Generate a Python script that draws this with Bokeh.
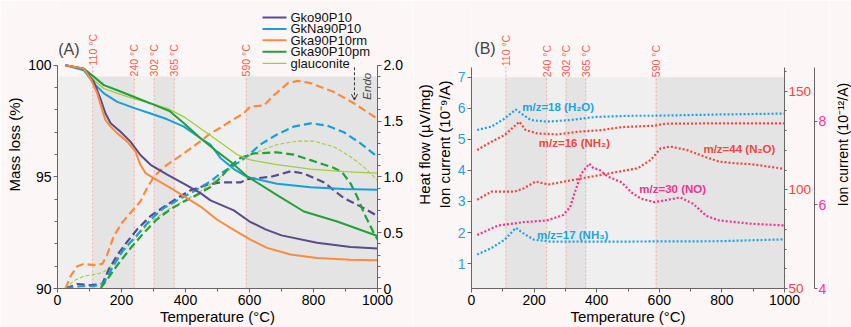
import numpy as np
from bokeh.plotting import figure
from bokeh.models import (Range1d, LinearAxis, FixedTicker, Label, Arrow, OpenHead,
                          NumeralTickFormatter)
from bokeh.layouts import row
from bokeh.embed import file_html
from bokeh.resources import INLINE
from bokeh.core.properties import value

# ---------------- (A) TG mass loss (%) ----------------
tg_gko_t = [25, 82, 114, 134, 150, 166, 197, 228, 259, 291, 343, 400, 447, 478, 551, 600, 650, 700, 811, 916, 1000]
tg_gko_m = [100, 99.85, 99.25, 98.51, 97.84, 97.40, 97.02, 96.58, 95.98, 95.54, 95.1, 94.65, 94.27, 93.95, 93.5, 93.0, 92.65, 92.38, 92.05, 91.86, 91.79]

tg_na_t = [25, 82, 114, 145, 187, 238, 291, 343, 395, 447, 478, 509, 551, 592, 686, 791, 895, 1000]
tg_na_m = [100, 99.78, 99.18, 98.74, 98.36, 98.09, 97.84, 97.58, 97.25, 96.73, 96.45, 95.85, 95.35, 95.0, 94.69, 94.54, 94.46, 94.42]

tg_rm_t = [25, 82, 103, 124, 140, 150, 166, 187, 218, 244, 259, 275, 301, 363, 447, 499, 551, 603, 655, 728, 811, 916, 1000]
tg_rm_m = [100, 99.85, 99.41, 98.74, 97.99, 97.54, 97.25, 96.95, 96.58, 96.13, 95.54, 95.17, 94.94, 94.42, 93.67, 93.08, 92.63, 92.19, 91.82, 91.52, 91.37, 91.29, 91.26]

tg_pm_t = [25, 82, 114, 145, 187, 238, 291, 350, 395, 447, 499, 541, 595, 690, 770, 874, 1000]
tg_pm_m = [100, 99.85, 99.48, 99.11, 98.88, 98.59, 98.29, 97.95, 97.40, 96.73, 96.13, 95.68, 95.0, 94.15, 93.45, 93.0, 92.35]

tg_gl_t = [25, 82, 114, 145, 187, 238, 291, 343, 395, 447, 478, 520, 561, 603, 686, 791, 895, 1000]
tg_gl_m = [100, 99.82, 99.33, 98.96, 98.74, 98.51, 98.29, 98.07, 97.69, 97.17, 96.85, 96.43, 96.0, 95.76, 95.55, 95.35, 95.24, 95.17]

# ---------------- (A) DSC heat flow (µV/mg) ----------------
dsc_gko_t = [25, 62, 103, 140, 160, 187, 218, 249, 291, 332, 374, 416, 468, 509, 572, 593, 666, 728, 770, 833, 895, 957, 1000]
dsc_gko_h = [0, 0.04, 0.03, 0.04, 0.17, 0.30, 0.42, 0.53, 0.65, 0.73, 0.81, 0.88, 0.93, 0.95, 0.95, 0.98, 1.0, 1.05, 1.03, 0.95, 0.81, 0.72, 0.65]

dsc_na_t = [25, 72, 114, 145, 176, 207, 249, 291, 332, 374, 426, 478, 509, 572, 603, 634, 686, 738, 791, 843, 895, 947, 1000]
dsc_na_h = [0, 0.02, 0.02, 0.05, 0.21, 0.35, 0.48, 0.62, 0.72, 0.79, 0.87, 0.96, 1.03, 1.14, 1.21, 1.29, 1.38, 1.45, 1.48, 1.46, 1.40, 1.30, 1.18]

dsc_rm_t = [25, 41, 62, 82, 114, 140, 155, 176, 202, 238, 259, 280, 301, 322, 343, 395, 447, 478, 509, 530, 582, 603, 645, 676, 720, 751, 791, 864, 926, 1000]
dsc_rm_h = [0.0, 0.11, 0.2, 0.22, 0.21, 0.22, 0.30, 0.47, 0.59, 0.71, 0.78, 0.90, 1.0, 1.06, 1.11, 1.21, 1.32, 1.39, 1.44, 1.48, 1.57, 1.63, 1.64, 1.73, 1.84, 1.86, 1.84, 1.76, 1.66, 1.52]

dsc_pm_t = [25, 100, 134, 160, 187, 228, 270, 311, 353, 395, 437, 478, 509, 541, 572, 613, 686, 738, 791, 864, 890, 916, 937, 957, 988, 1000]
dsc_pm_h = [-0.03, -0.03, 0.0, 0.1, 0.21, 0.36, 0.50, 0.62, 0.71, 0.78, 0.84, 0.91, 0.99, 1.10, 1.17, 1.21, 1.22, 1.20, 1.15, 1.08, 1.04, 0.94, 0.82, 0.68, 0.50, 0.44]

dsc_gl_t = [25, 51, 82, 124, 145, 171, 202, 233, 291, 353, 437, 509, 560, 613, 686, 749, 801, 864, 916, 957, 978, 1000]
dsc_gl_h = [0, 0.07, 0.11, 0.13, 0.15, 0.21, 0.32, 0.42, 0.60, 0.72, 0.85, 1.0, 1.12, 1.21, 1.29, 1.32, 1.32, 1.27, 1.18, 1.09, 1.03, 0.97]

sample_names = ["Gko90P10", "GkNa90P10", "Gka90P10rm", "Gka90P10pm", "glauconite"]

# ---------------- (B) MS ion currents ----------------
ms18_t = [18, 64, 106, 142, 158, 189, 241, 314, 397, 511, 584, 791, 1000]
ms18_i = [5.30, 5.41, 5.67, 5.96, 5.84, 5.62, 5.57, 5.62, 5.72, 5.76, 5.76, 5.80, 5.83]

ms17_t = [18, 64, 106, 142, 163, 199, 251, 511, 791, 1000]
ms17_i = [1.29, 1.50, 1.77, 2.15, 1.99, 1.77, 1.71, 1.71, 1.72, 1.78]

ms16_t = [18, 64, 106, 153, 173, 210, 272, 345, 417, 480, 584, 620, 791, 1000]
ms16_i = [120.2, 124.4, 127.8, 134.5, 130.3, 128.6, 128.1, 129.5, 130.3, 131.8, 132.5, 133.5, 133.7, 133.7]

ms44_t = [18, 64, 137, 168, 205, 246, 314, 397, 480, 532, 573, 604, 636, 688, 750, 791, 840, 895, 1000]
ms44_i = [95.0, 99.1, 99.1, 100.8, 104.2, 102.7, 104.7, 107.1, 109.5, 111.0, 115.2, 121.0, 121.9, 120.2, 116.5, 114.3, 113.5, 113.0, 110.6]

ms30_t = [18, 85, 168, 241, 293, 315, 330, 350, 376, 390, 407, 438, 480, 511, 542, 584, 625, 667, 708, 750, 791, 895, 1000]
ms30_i = [5.28, 5.51, 5.59, 5.63, 5.76, 5.95, 6.3, 6.74, 6.99, 6.88, 6.85, 6.67, 6.54, 6.3, 6.15, 6.07, 6.12, 6.18, 6.03, 5.74, 5.63, 5.55, 5.51]

# temperature markers and shaded steps
temps = [110, 240, 302, 365, 590]
temp_labels = ["110 °C", "240 °C", "302 °C", "365 °C", "590 °C"]
band_edges = [0, 110, 240, 302, 365, 590, 1000]

# ---------------- styling ----------------
PINK = "#fcf7f6"
BAND_LIGHT = "#efefef"
BAND_DARK = "#e4e4e4"
AXIS = "#666666"
FONT = "Liberation Sans"
MARK_RED = "#ff5a4a"
MARK_LINE = "#f3a69c"

C_GKO = "#5a4a87"
C_NA = "#16a0db"
C_RM = "#fb8b3c"
C_PM = "#22a03a"
C_GL = "#a0cd40"

C_MS_BLUE = "#1ea2e0"
C_MS_RED = "#f0483c"
C_MS_MAG = "#ee3390"

FRAME_H = 289
BOTTOM = 38
LABEL_LIFT = [11, 0, 0, 0, 0]  # px raise of the marker labels


def base_figure(width, left, right, y0, px_per_unit):
    p = figure(width=width, height=FRAME_H + BOTTOM,
               x_range=Range1d(0, 1000), y_range=Range1d(y0, y0 + FRAME_H / px_per_unit),
               output_backend="svg", toolbar_location=None,
               min_border_left=left, min_border_right=right,
               min_border_top=0, min_border_bottom=BOTTOM)
    p.xgrid.visible = False
    p.ygrid.visible = False
    p.outline_line_color = None
    p.background_fill_color = PINK
    p.border_fill_color = PINK
    return p


def style_axis(ax, label_color="black"):
    ax.axis_line_color = AXIS
    ax.major_tick_line_color = AXIS
    ax.minor_tick_line_color = AXIS
    ax.major_tick_out = 4
    ax.major_tick_in = 0
    ax.minor_tick_out = 3
    ax.minor_tick_in = 0
    ax.major_label_text_font = FONT
    ax.major_label_text_font_size = "14px"
    ax.major_label_text_color = label_color
    ax.major_label_standoff = 2
    ax.axis_label_text_font = FONT
    ax.axis_label_text_font_size = "15px"
    ax.axis_label_text_font_style = "normal"
    ax.axis_label_text_color = "black"
    ax.axis_label_standoff = 2


def title_only_axis(text, size="15px"):
    # an axis that carries just a rotated title (reads bottom-to-top)
    ax = LinearAxis(ticker=FixedTicker(ticks=[]), axis_label=text)
    style_axis(ax)
    ax.axis_line_color = None
    ax.major_tick_out = 0
    ax.minor_tick_out = 0
    ax.major_label_standoff = 0
    ax.axis_label_standoff = 0
    ax.axis_label_text_font_size = size
    return ax


def style_x(p):
    ax = p.xaxis[0]
    ax.ticker = FixedTicker(ticks=[0, 200, 400, 600, 800, 1000],
                            minor_ticks=[100, 300, 500, 700, 900])
    ax.axis_label = "Temperature (°C)"
    style_axis(ax)
    ax.axis_label_standoff = 0


def shade_and_mark(p, bottom, top, px_per_unit):
    lefts = band_edges[:-1]
    rights = band_edges[1:]
    fills = [BAND_LIGHT if i % 2 == 0 else BAND_DARK for i in range(len(lefts))]
    p.quad(left=lefts, right=rights, bottom=bottom, top=top,
           fill_color=fills, line_color=None)
    tops = [top + lift / px_per_unit for lift in LABEL_LIFT]
    p.segment(x0=temps, y0=[bottom] * len(temps), x1=temps, y1=tops,
              line_color=MARK_LINE, line_width=1, line_dash="2 2")
    p.text(x=temps, y=tops, text=temp_labels, angle=np.pi / 2,
           text_align="left", text_baseline="middle", text_color=MARK_RED,
           text_font=value(FONT), text_font_size="10.5px")


# ======================= panel (A) =======================
A_XPX = 0.32         # px per °C
A_PX = 22.4          # px per % mass
A_DSC_PX = 112.0     # px per µV/mg
pa = base_figure(412, 57, 35, 90, A_PX)
pa.extra_y_ranges = {"dsc": Range1d(0, FRAME_H / A_DSC_PX)}
shade_and_mark(pa, 90, 99.5, A_PX)

dash = "8 4"
pa.line(dsc_gl_t, dsc_gl_h, y_range_name="dsc", line_color=C_GL, line_width=1.1, line_dash="4 2")
pa.line(dsc_gko_t, dsc_gko_h, y_range_name="dsc", line_color=C_GKO, line_width=2.2, line_dash=dash)
pa.line(dsc_na_t, dsc_na_h, y_range_name="dsc", line_color=C_NA, line_width=2.2, line_dash=dash)
pa.line(dsc_pm_t, dsc_pm_h, y_range_name="dsc", line_color=C_PM, line_width=2.2, line_dash=dash)
pa.line(dsc_rm_t, dsc_rm_h, y_range_name="dsc", line_color=C_RM, line_width=2.2, line_dash=dash)

pa.line(tg_gl_t, tg_gl_m, line_color=C_GL, line_width=1.3)
pa.line(tg_na_t, tg_na_m, line_color=C_NA, line_width=2)
pa.line(tg_pm_t, tg_pm_m, line_color=C_PM, line_width=2)
pa.line(tg_gko_t, tg_gko_m, line_color=C_GKO, line_width=2)
pa.line(tg_rm_t, tg_rm_m, line_color=C_RM, line_width=2)

# compact key above the frame (rows closer than a Legend allows)
LEG_LEFT_PX = 205     # from frame left
LEG_TOP_PX = 17       # first row centre below frame top
LEG_PITCH_PX = 11.5
LEG_SWATCH_PX = 24
a_top = 90 + FRAME_H / A_PX
leg_colors = [C_GKO, C_NA, C_RM, C_PM, C_GL]
leg_widths = [2, 2, 2, 2, 1.3]
leg_y = [a_top - (LEG_TOP_PX + i * LEG_PITCH_PX) / A_PX for i in range(len(sample_names))]
pa.segment(x0=[LEG_LEFT_PX / A_XPX] * 5, y0=leg_y,
           x1=[(LEG_LEFT_PX + LEG_SWATCH_PX) / A_XPX] * 5, y1=leg_y,
           line_color=leg_colors, line_width=leg_widths)
pa.text(x=[(LEG_LEFT_PX + LEG_SWATCH_PX + 4) / A_XPX] * 5, y=leg_y, text=sample_names,
        text_align="left", text_baseline="middle", text_color="#111111",
        text_font=value(FONT), text_font_size="13px")

style_x(pa)
ya = pa.yaxis[0]
ya.ticker = FixedTicker(ticks=[90, 95, 100], minor_ticks=list(range(91, 100)))
ya.bounds = (90, 100)
ya.axis_label = "Mass loss (%)"
style_axis(ya)

# heat-flow scale; its title is set in the gap to the right (see panel B)
ya2 = LinearAxis(y_range_name="dsc",
                 ticker=FixedTicker(ticks=[0, 0.5, 1.0, 1.5, 2.0],
                                    minor_ticks=[i / 10 for i in range(21)]),
                 formatter=NumeralTickFormatter(format="0.0"))
ya2.major_label_overrides = {0: "0"}
ya2.bounds = (0, 2)
style_axis(ya2)
pa.add_layout(ya2, "right")

pa.add_layout(Arrow(end=OpenHead(size=6, line_width=1, line_color="#333333"),
                    x_start=928, y_start=99.91, x_end=928, y_end=98.44,
                    line_dash="3 2", line_width=1, line_color="#333333"))
pa.add_layout(Label(x=966, y=99.06, text="Endo", angle=np.pi / 2,
                    text_align="center", text_baseline="middle",
                    text_font=FONT, text_font_size="11.5px", text_font_style="italic"))
pa.add_layout(Label(x=2, y=100.71, text="(A)", text_align="left", text_baseline="middle",
                    text_font=FONT, text_font_size="16px"))

# ======================= panel (B) =======================
B_PX = 31.17         # px per 1e-9 A
B_RED_PX = 1.98      # px per 1e-12 A (red scale)
B_MAG_PX = 41.9      # px per 1e-12 A (magenta scale)
B_Y0 = 1 - 25 / B_PX
pb = base_figure(417, 56, 40, B_Y0, B_PX)
pb.extra_y_ranges = {"red": Range1d(50, 50 + FRAME_H / B_RED_PX),
                     "mag": Range1d(4, 4 + FRAME_H / B_MAG_PX)}
shade_and_mark(pb, B_Y0, 7, B_PX)

dot = "2 2"
pb.line(ms44_t, ms44_i, y_range_name="red", line_color=C_MS_RED, line_width=2.2, line_dash=dot)
pb.line(ms16_t, ms16_i, y_range_name="red", line_color=C_MS_RED, line_width=2.2, line_dash=dot)
pb.line(ms30_t, ms30_i, y_range_name="mag", line_color=C_MS_MAG, line_width=2.2, line_dash=dot)
pb.line(ms18_t, ms18_i, line_color=C_MS_BLUE, line_width=2.2, line_dash=dot)
pb.line(ms17_t, ms17_i, line_color=C_MS_BLUE, line_width=2.2, line_dash=dot)

lbl = dict(text_align="left", text_baseline="middle", text_font=value(FONT),
           text_font_size="11.5px", text_font_style="bold")
pb.text(x=[162, 209], y=[6.04, 1.93], text=["m/z=18 (H₂O)", "m/z=17 (NH₃)"],
        text_color=C_MS_BLUE, **lbl)
pb.text(x=[215, 741], y=[123.7, 120.7], text=["m/z=16 (NH₂)", "m/z=44 (N₂O)"],
        y_range_name="red", text_color=C_MS_RED, **lbl)
pb.text(x=[536], y=[6.39], text=["m/z=30 (NO)"], y_range_name="mag",
        text_color=C_MS_MAG, **lbl)

style_x(pb)
yb = pb.yaxis[0]
yb.ticker = FixedTicker(ticks=[1, 2, 3, 4, 5, 6, 7])
yb.bounds = (B_Y0, 7.32)
yb.axis_label = "Ion current (10⁻⁹/A)"
style_axis(yb, C_MS_BLUE)
pb.add_layout(title_only_axis("Heat flow (µV/mg)"), "left")

yr = LinearAxis(y_range_name="red",
                ticker=FixedTicker(ticks=[50, 100, 150],
                                   minor_ticks=[60, 70, 80, 90, 110, 120, 130, 140, 160]))
yr.bounds = (50, 162)
style_axis(yr, "#ff4036")
yr.major_tick_out = 3
yr.minor_tick_out = 2
yr.major_label_standoff = 1
yr.major_label_text_font_size = "13.5px"
pb.add_layout(yr, "right")

ym = LinearAxis(y_range_name="mag", ticker=FixedTicker(ticks=[4, 6, 8]))
ym.bounds = (4, 9.3)
style_axis(ym, "#ff3399")
ym.major_tick_out = 3
ym.major_label_standoff = 1
pb.add_layout(ym, "right")

pb.add_layout(Label(x=9, y=7.93, text="(B)", text_align="left", text_baseline="middle",
                    text_font=FONT, text_font_size="16px"))

# narrow strip on the far right holding the title of the magenta scale
pc = figure(width=22, height=FRAME_H + BOTTOM, x_range=Range1d(0, 1), y_range=Range1d(0, 1),
            output_backend="svg", toolbar_location=None, x_axis_location=None,
            y_axis_location=None, min_border_left=21, min_border_right=0,
            min_border_top=0, min_border_bottom=BOTTOM)
pc.grid.visible = False
pc.outline_line_color = None
pc.background_fill_color = PINK
pc.border_fill_color = PINK
pc.add_layout(title_only_axis("Ion current (10⁻¹²/A)", "14px"), "left")

layout = row(pa, pb, pc)
open("out.html", "w").write(file_html(layout, INLINE))
